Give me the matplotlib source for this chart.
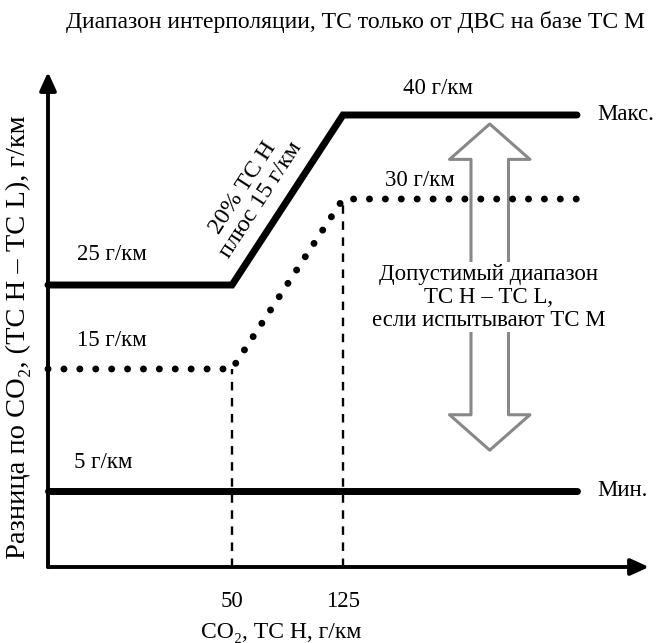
import numpy as np
import matplotlib.pyplot as plt

plt.rcParams['font.family'] = ['Liberation Serif', 'DejaVu Serif']
plt.rcParams['font.size'] = 16.5

# CO2 of vehicle H, g/km (break points of the range boundaries)
co2_h = [0, 50, 125, 175]
# allowed difference H - L, g/km
max_diff = [25, 25, 40, 40]
ice_diff = [15, 15, 30, 30]
min_x = [0, 175]
min_diff = [5, 5]
x_marks = [50, 125]
x_tick_labels = ['50', '125']

# schematic axes (not to scale): value -> position along the axis, px
X_VALS = [0, 50, 125, 175, 200]
X_POS = [0, 184, 295, 529, 601]
Y_VALS = [0, 5, 15, 25, 30, 40, 50]
Y_POS = [0, 76, 198, 282, 368, 452, 495]

fig = plt.figure(figsize=(6.56, 6.43), dpi=100)
ax = fig.add_axes([48 / 656, 76 / 643, 601 / 656, 495 / 643])
ax.set_xscale('function', functions=(lambda v: np.interp(v, X_VALS, X_POS),
                                     lambda p: np.interp(p, X_POS, X_VALS)))
ax.set_yscale('function', functions=(lambda v: np.interp(v, Y_VALS, Y_POS),
                                     lambda p: np.interp(p, Y_POS, Y_VALS)))
ax.set_xlim(0, 200)
ax.set_ylim(0, 50)
for s in ax.spines.values():
    s.set_visible(False)

# axis arrows
arrow_kw = dict(arrowstyle='-|>,head_length=0.55,head_width=0.25', lw=2.8,
                color='black', shrinkA=0, shrinkB=0, mutation_scale=20)
ax.annotate('', xy=(0, 1), xytext=(0, 0), xycoords='axes fraction',
            arrowprops=arrow_kw, annotation_clip=False)
ax.annotate('', xy=(1, 0), xytext=(0, 0), xycoords='axes fraction',
            arrowprops=arrow_kw, annotation_clip=False)

# hollow double arrow for the allowed range (joined behind the text)
big_kw = dict(arrowstyle='simple,head_length=0.85,head_width=1.93,tail_width=0.9',
              fc='none', ec='#888888', lw=2.2, shrinkA=0, shrinkB=0,
              mutation_scale=30)
ax.annotate('', xy=(0.735, 0.895), xytext=(0.735, 0.545), xycoords='axes fraction',
            arrowprops=big_kw, zorder=1)
ax.annotate('', xy=(0.735, 0.236), xytext=(0.735, 0.545), xycoords='axes fraction',
            arrowprops=big_kw, zorder=1)

# boundary lines
ax.plot(co2_h, max_diff, color='black', lw=5, solid_capstyle='round',
        solid_joinstyle='miter', zorder=3, clip_on=False)
ax.plot(min_x, min_diff, color='black', lw=5, solid_capstyle='round',
        zorder=3, clip_on=False)
ax.plot(co2_h, ice_diff, color='black', lw=5, linestyle=(0, (0.01, 2.28)),
        dash_capstyle='round', zorder=3, clip_on=False)

# dashed drop lines
for xv, yv in zip(co2_h[1:3], ice_diff[1:3]):
    ax.plot([xv, xv], [0, yv], color='black', lw=1.7,
            linestyle=(0, (3.6, 3.2)), zorder=2)

ax.set_xticks(x_marks, x_tick_labels)
ax.set_yticks([])
ax.tick_params(axis='x', length=0, pad=17)
ax.set_xlabel('CO₂, ТС Н, г/км', va='center', fontsize=17)
ax.xaxis.set_label_coords(0.388, -0.132)
ax.set_ylabel('Разница по CO₂, (ТС Н – ТС L), г/км', va='center', fontsize=20.5)
ax.yaxis.set_label_coords(-0.05, 0.465)

# level labels
lbl = dict(textcoords='offset pixels', ha='center', va='center', annotation_clip=False)
ax.annotate('40 г/км', xy=(co2_h[2], max_diff[2]), xytext=(95, 27), **lbl)
ax.annotate('30 г/км', xy=(co2_h[2], ice_diff[2]), xytext=(77, 18), **lbl)
ax.annotate('25 г/км', xy=(co2_h[0], max_diff[0]), xytext=(64, 30), **lbl)
ax.annotate('15 г/км', xy=(co2_h[0], ice_diff[0]), xytext=(64, 29), **lbl)
ax.annotate('5 г/км', xy=(min_x[0], min_diff[0]), xytext=(55, 29), **lbl)
ax.annotate('Макс.', xy=(co2_h[-1], max_diff[-1]), xytext=(20, 0),
            textcoords='offset pixels', ha='left', va='center', annotation_clip=False)
ax.annotate('Мин.', xy=(min_x[-1], min_diff[-1]), xytext=(20, 0),
            textcoords='offset pixels', ha='left', va='center', annotation_clip=False)
ax.annotate('20% ТС Н\nплюс 15 г/км', xy=(co2_h[1], max_diff[1]), xytext=(20, 91),
            textcoords='offset pixels', ha='center', va='center', rotation=57,
            rotation_mode='anchor', linespacing=1.0, fontsize=17.5,
            annotation_clip=False)

ax.text(0.733, 0.545, 'Допустимый диапазон\nТС Н – ТС L,\nесли испытывают ТС М',
        transform=ax.transAxes, ha='center', va='center', linespacing=1.12,
        bbox=dict(fc='white', ec='none', pad=1), zorder=4)

fig.text(355 / 656, 1 - 22 / 643, 'Диапазон интерполяции, ТС только от ДВС на базе ТС М',
         ha='center', va='center', fontsize=17)

fig.savefig('out.png', dpi=100)
